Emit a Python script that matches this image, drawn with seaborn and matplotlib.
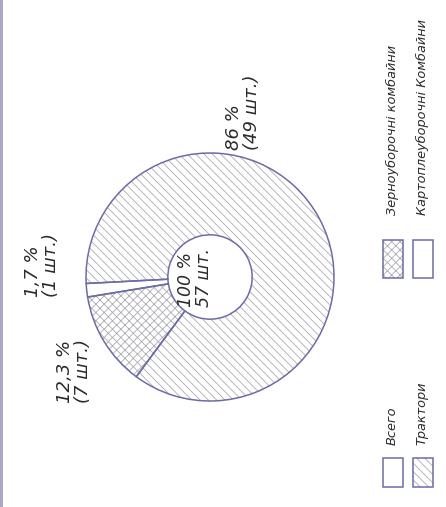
import matplotlib
matplotlib.use("Agg")
import matplotlib.pyplot as plt
import seaborn as sns
from matplotlib.patches import Rectangle

# ---------------- data ----------------
categories = ["Картоплеуборочні комбайни", "Зерноуборочні комбайни", "Трактори"]
counts = [1, 7, 49]
percent_labels = ["1,7 %", "12,3 %", "86 %"]
total_percent = "100 %"
total_count = 57
legend_labels = ["Всего", "Трактори", "Зерноуборочні комбайни", "Картоплеуборочні Комбайни"]

# ---------------- style ----------------
sns.set_theme(style="white")
plt.rcParams["font.family"] = ["DejaVu Sans"]
plt.rcParams["hatch.linewidth"] = 0.6

outline = "#6c6ca6"
hatch_gray = "#acacb2"
text_col = "#2b2b2b"
slice_hatches = ["", "xxxx", "\\\\\\\\"]
legend_hatches = ["", "\\\\\\\\", "xxxx", ""]

fig = plt.figure(figsize=(4.46, 5.07), dpi=100)
ax = fig.add_axes([0, 0, 1, 1])

center = (210, 230)
R = 124
width = R * 0.66

# hatched fill pass
wedges, _ = ax.pie(counts, startangle=183, counterclock=True, radius=R, center=center,
                   colors=["white"] * 3,
                   wedgeprops=dict(width=width, edgecolor=hatch_gray, linewidth=0))
for w, h in zip(wedges, slice_hatches):
    w.set_hatch(h)
# outline pass
ax.pie(counts, startangle=183, counterclock=True, radius=R, center=center,
       colors=["none"] * 3,
       wedgeprops=dict(width=width, edgecolor=outline, linewidth=1.1, fill=False))

ax.set_xlim(0, 446)
ax.set_ylim(0, 507)
ax.set_aspect("equal")
ax.axis("off")

tkw = dict(rotation=90, rotation_mode="anchor", ha="left", va="center",
           multialignment="left", style="italic", color=text_col, linespacing=0.95)

label_pos = [(42, 210), (74, 104), (243, 357)]
for (x, y), p, c in zip(label_pos, percent_labels, counts):
    ax.text(x, y, f"{p}\n({c} шт.)", fontsize=13, **tkw)
ax.text(195, 200, f"{total_percent}\n{total_count} шт.", fontsize=12.5, **tkw)

# legend
boxes = [(383, 20, 20, 29), (413, 20, 20, 29), (383, 229, 20, 38), (413, 229, 20, 38)]
text_y = [62, 62, 292, 292]
for (bx, by, bw, bh), lab, h, ty in zip(boxes, legend_labels, legend_hatches, text_y):
    ax.add_patch(Rectangle((bx, by), bw, bh, facecolor="white", edgecolor=hatch_gray,
                           linewidth=0, hatch=h))
    ax.add_patch(Rectangle((bx, by), bw, bh, fill=False, edgecolor=outline, linewidth=1.1))
    ax.text(bx + bw / 2 - 1, ty, lab, fontsize=9.3, **tkw)

# left border stripe
fig.patches.append(Rectangle((0, 0), 3 / 446, 1, transform=fig.transFigure,
                             facecolor="#a9a9c6", edgecolor="none"))

fig.savefig("out.png", dpi=100, facecolor="white")
